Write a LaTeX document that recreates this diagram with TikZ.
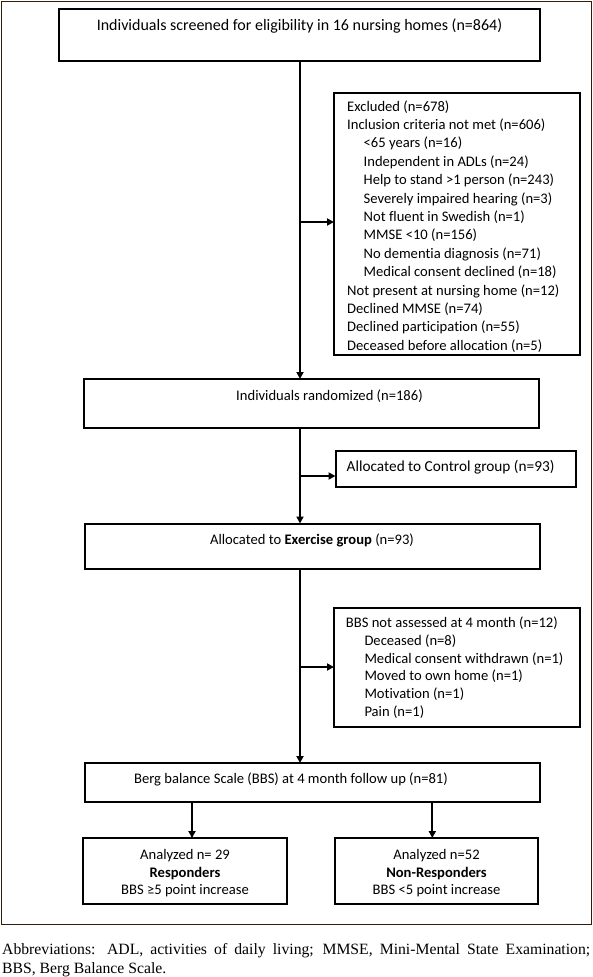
\documentclass[tikz,border=0pt]{standalone}
\usepackage{fontspec}
\setmainfont{Carlito}[Ligatures=NoCommon]
\newfontfamily\capfont{Liberation Serif}
\usetikzlibrary{arrows.meta,calc}
\definecolor{framec}{RGB}{45,30,15}
\begin{document}
\begin{tikzpicture}[x=1pt,y=-1pt,
  box/.style={draw=black, line width=2pt, anchor=north west, inner sep=0pt, outer sep=0pt},
  txt/.style={inner sep=0pt, font=\fontsize{14.6}{18.4}\selectfont},
  bigtxt/.style={inner sep=0pt, font=\fontsize{16}{19}\selectfont},
  midtxt/.style={inner sep=0pt, font=\fontsize{15.3}{18.4}\selectfont},
  arr/.style={line width=2pt, -{Triangle[length=7pt,width=7pt]}},
  captxt/.style={inner sep=0pt, anchor=base west, font=\capfont\fontsize{15.7}{19}\selectfont}]
\useasboundingbox (0,0) rectangle (592,977);
% outer frame
\node[draw=framec, line width=1.3pt, anchor=north west, minimum width=590pt, minimum height=923pt, inner sep=0pt] (frame) at (1,1) {};
% boxes
\node[box, minimum width=481.5pt, minimum height=52pt] (top) at (58.5,8.5) {};
\node[box, minimum width=246pt, minimum height=262pt] (excl) at (334,93) {};
\node[box, minimum width=455.5pt, minimum height=48.5pt] (rand) at (83.5,379) {};
\node[box, minimum width=240.5pt, minimum height=36pt] (ctrl) at (335.5,451) {};
\node[box, minimum width=455pt, minimum height=45.5pt] (exer) at (85,523.5) {};
\node[box, minimum width=245.5pt, minimum height=119pt] (bbsna) at (334,607.5) {};
\node[box, minimum width=455pt, minimum height=39pt] (berg) at (85,763) {};
\node[box, minimum width=204pt, minimum height=66pt] (resp) at (83,838) {};
\node[box, minimum width=203pt, minimum height=66pt] (nonr) at (335,838) {};
% texts
\node[bigtxt, anchor=base] (toptxt) at (299.5,30.5) {Individuals screened for eligibility in 16 nursing homes (n=864)};
\foreach \t/\lv [count=\k from 0] in {
  {Excluded (n=678)}/0,
  {Inclusion criteria not met (n=606)}/0,
  {<65 years (n=16)}/1,
  {Independent in ADLs (n=24)}/1,
  {Help to stand >1 person (n=243)}/1,
  {Severely impaired hearing (n=3)}/1,
  {Not fluent in Swedish (n=1)}/1,
  {MMSE <10 (n=156)}/1,
  {No dementia diagnosis (n=71)}/1,
  {Medical consent declined (n=18)}/1,
  {Not present at nursing home (n=12)}/0,
  {Declined MMSE (n=74)}/0,
  {Declined participation (n=55)}/0,
  {Deceased before allocation (n=5)}/0}
  \node[txt, anchor=base west] (ex\k) at (347+16.5*\lv, 111+18.4*\k) {\t};
\node[txt, anchor=base] (randtxt) at (329.5,400) {Individuals randomized (n=186)};
\node[midtxt, anchor=base west] (ctrltxt) at (346.5,471.7) {Allocated to Control group (n=93)};
\node[txt, anchor=base] (exertxt) at (312,544) {Allocated to \textbf{Exercise group} (n=93)};
\foreach \t/\lv [count=\k from 0] in {
  {BBS not assessed at 4 month (n=12)}/0,
  {Deceased (n=8)}/1,
  {Medical consent withdrawn (n=1)}/1,
  {Moved to own home (n=1)}/1,
  {Motivation (n=1)}/1,
  {Pain (n=1)}/1}
  \node[txt, anchor=base west] (na\k) at (345.7+18.6*\lv, 627.7+17.7*\k) {\t};
\node[txt, anchor=base] (bergtxt) at (291,783) {Berg balance Scale (BBS) at 4 month follow up (n=81)};
\node[txt, anchor=base] (r1) at (185,859) {Analyzed n= 29};
\node[txt, anchor=base] (r2) at (185,877) {\textbf{Responders}};
\node[txt, anchor=base] (r3) at (185,894) {BBS ≥5 point increase};
\node[txt, anchor=base] (n1) at (436.5,859) {Analyzed n=52};
\node[txt, anchor=base] (n2) at (436.5,877) {\textbf{Non-Responders}};
\node[txt, anchor=base] (n3) at (436.5,894) {BBS <5 point increase};
% connectors
\coordinate (sp) at (300,0);
\coordinate (ra) at (192,0);
\coordinate (nra) at (432.3,0);
\path ($(excl.west)+(0,-2)$) coordinate (exin);
\path ($(ctrl.west)+(0,7)$) coordinate (ctin);
\draw[arr] (sp |- top.south) -- (sp |- rand.north);
\draw[arr] (sp |- exin) -- (exin);
\draw[arr] (sp |- rand.south) -- (sp |- exer.north);
\draw[arr] (sp |- ctin) -- (ctin);
\draw[arr] (sp |- exer.south) -- (sp |- berg.north);
\draw[arr] (sp |- bbsna.west) -- (bbsna.west);
\draw[arr] (ra |- berg.south) -- (ra |- resp.north);
\draw[arr] (nra |- berg.south) -- (nra |- nonr.north);
% caption
\node[captxt] (cap1) at (2,954) {\makebox[588pt][s]{Abbreviations: ADL, activities of daily living; MMSE, Mini-Mental State Examination;}};
\node[captxt] (cap2) at (2,973) {BBS, Berg Balance Scale.};
\end{tikzpicture}
\end{document}
